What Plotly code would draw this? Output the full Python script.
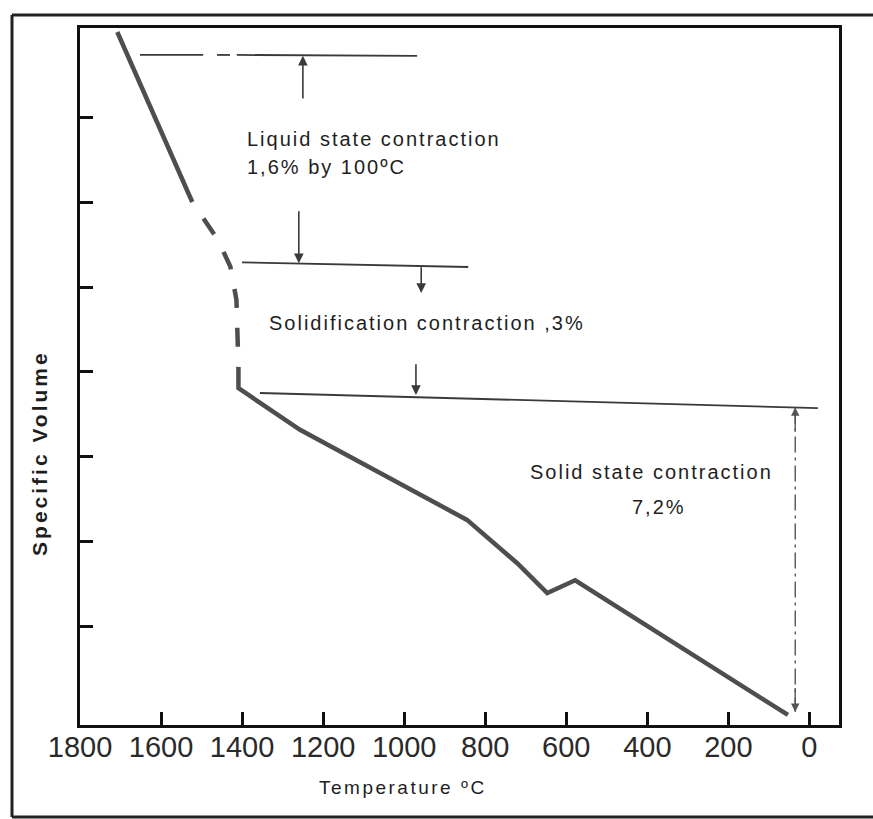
import plotly.graph_objects as go

# Temperature (deg C) / specific volume (arbitrary units) of a cooling steel casting
liquid_temp = [1708, 1523]
liquid_vol = [9.0, 7.0]

freezing_temp = [1523, 1459, 1429, 1414, 1409]
freezing_vol = [7.0, 6.55, 6.24, 5.85, 5.06]

solid_temp = [1409, 1409, 1257, 1010, 845, 721, 647, 578, 53]
solid_vol = [5.06, 4.81, 4.32, 3.69, 3.26, 2.75, 2.40, 2.55, 0.965]

# Reference levels used to mark the three contraction stages
liquid_ref_temp = [1652, 1496, None, 1462, 1430, None, 1413, 968]
liquid_ref_vol = [8.73, 8.73, None, 8.73, 8.73, None, 8.73, 8.72]
solidus_ref_temp = [1400, 842]
solidus_ref_vol = [6.29, 6.235]
solid_ref_temp = [1356, -21]
solid_ref_vol = [4.753, 4.576]

# Dimension arrows: (temperature, tail volume, head volume)
arrows = [
    (1250, 8.20, 8.72),
    (1260, 6.91, 6.28),
    (958, 6.25, 5.93),
    (971, 5.11, 4.73),
]
span_temp = 35
span_top = 4.583
span_bottom = 1.0

x_ticks = [1800, 1600, 1400, 1200, 1000, 800, 600, 400, 200, 0]
x_tick_text = [str(t) for t in x_ticks]
y_ticks = [2, 3, 4, 5, 6, 7, 8]

FONT = "Liberation Sans, Arial, Helvetica, sans-serif"
CURVE = "#4e4e4e"
REF = "#3a3a3a"
INK = "#1e1e1e"

fig = go.Figure()

ref_style = dict(color=REF, width=1.8)
fig.add_trace(go.Scatter(x=liquid_ref_temp, y=liquid_ref_vol, mode="lines",
                         line=ref_style, connectgaps=False, hoverinfo="skip"))
fig.add_trace(go.Scatter(x=solidus_ref_temp, y=solidus_ref_vol, mode="lines",
                         line=ref_style, hoverinfo="skip"))
fig.add_trace(go.Scatter(x=solid_ref_temp, y=solid_ref_vol, mode="lines",
                         line=ref_style, hoverinfo="skip"))

# vertical dash-dot span for the solid state contraction
fig.add_trace(go.Scatter(x=[span_temp, span_temp], y=[span_top, span_bottom],
                         mode="lines",
                         line=dict(color="#555555", width=1.4, dash="16px,5px,3px,5px"),
                         hoverinfo="skip"))

fig.add_trace(go.Scatter(x=liquid_temp, y=liquid_vol, mode="lines",
                         line=dict(color=CURVE, width=4.5)))
fig.add_trace(go.Scatter(x=freezing_temp, y=freezing_vol, mode="lines",
                         line=dict(color=CURVE, width=4.5, dash="0px,20px,19px,0px")))
fig.add_trace(go.Scatter(x=solid_temp, y=solid_vol, mode="lines",
                         line=dict(color=CURVE, width=4.5)))

annotations = []
for t, tail, head in arrows:
    annotations.append(dict(x=t, y=head, ax=t, ay=tail, xref="x", yref="y",
                            axref="x", ayref="y", text="", showarrow=True,
                            arrowhead=2, arrowsize=1.2, arrowwidth=1.6,
                            arrowcolor=REF))
for head, tail in [(span_top, span_top - 0.3), (span_bottom, span_bottom + 0.3)]:
    annotations.append(dict(x=span_temp, y=head, ax=span_temp, ay=tail, xref="x",
                            yref="y", axref="x", ayref="y", text="", showarrow=True,
                            arrowhead=2, arrowsize=1.2, arrowwidth=1.4,
                            arrowcolor="#555555"))


def spaced(text, px):
    return f"<span style='letter-spacing:{px}px'>{text}</span>"


labels = [
    ("Liquid state contraction", 1393, 7.74, "left"),
    ("1,6% by 100ºC", 1393, 7.41, "left"),
    ("Solidification contraction ,3%", 1338, 5.58, "left"),
    ("Solid state contraction", 694, 3.82, "left"),
    ("7,2%", 443, 3.41, "left"),
]
for text, t, v, anchor in labels:
    annotations.append(dict(x=t, y=v, xref="x", yref="y", text=spaced(text, 2),
                            showarrow=False, xanchor=anchor, yanchor="middle",
                            font=dict(family=FONT, size=20, color=INK)))

annotations.append(dict(x=0.4256, y=-0.089, xref="paper", yref="paper",
                        text=spaced("Temperature ºC", 2.5), showarrow=False,
                        xanchor="center", yanchor="middle",
                        font=dict(family=FONT, size=19, color=INK)))
annotations.append(dict(x=-0.0534, y=0.391, xref="paper", yref="paper",
                        text=spaced("<b>Specific Volume</b>", 3), showarrow=False,
                        textangle=-90, xanchor="center", yanchor="middle",
                        font=dict(family=FONT, size=21, color=INK)))

frame = dict(color="#222222", width=3)
shapes = [
    dict(type="line", xref="paper", yref="paper", x0=-0.0896, x1=1.08,
         y0=1.0187, y1=1.0187, line=frame),
    dict(type="line", xref="paper", yref="paper", x0=-0.0896, x1=-0.0896,
         y0=-0.132, y1=1.0187, line=frame),
    dict(type="line", xref="paper", yref="paper", x0=-0.0896, x1=1.08,
         y0=-0.132, y1=-0.132, line=frame),
]

axis_common = dict(showgrid=False, zeroline=False, showline=True, linewidth=3,
                   linecolor="#111111", mirror=True, ticks="inside", ticklen=13,
                   tickwidth=3, tickcolor="#111111")

fig.update_layout(
    width=873, height=819,
    margin=dict(l=80, r=34, t=28, b=94),
    paper_bgcolor="white", plot_bgcolor="white",
    showlegend=False,
    xaxis=dict(range=[1800, -73], tickvals=x_ticks, ticktext=x_tick_text,
               ticklabelstandoff=-6,
               tickfont=dict(family=FONT, size=29, color="#2a2a2a"), **axis_common),
    yaxis=dict(range=[0.847, 9.047], tickvals=y_ticks, showticklabels=False,
               **axis_common),
    annotations=annotations,
    shapes=shapes,
)

fig.write_html("out.html")
